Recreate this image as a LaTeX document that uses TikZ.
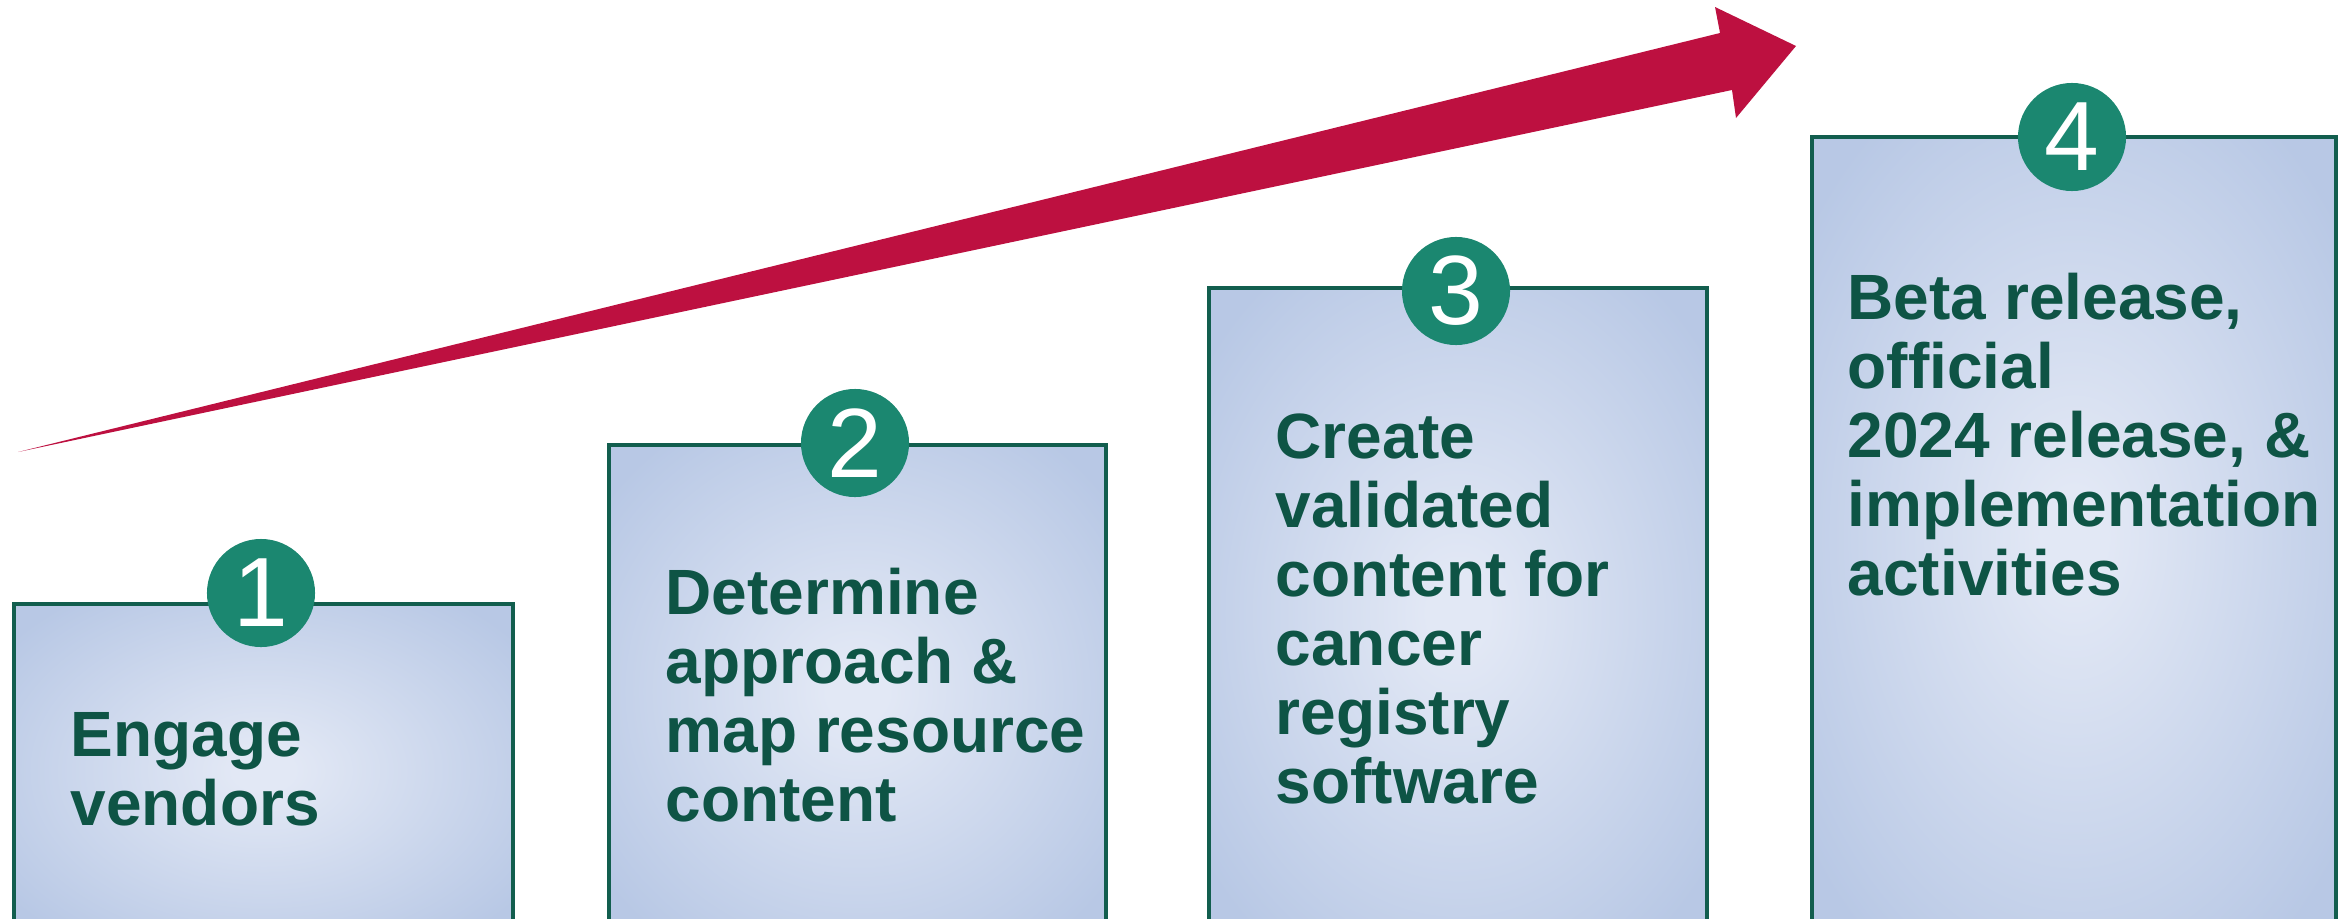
\documentclass[tikz,border=0pt]{standalone}
\usepackage{fontspec}
\setmainfont{Liberation Sans}
\usepackage{tikz}
\usetikzlibrary{shapes}

\definecolor{boxin}{RGB}{226,232,245}
\definecolor{boxout}{RGB}{184,200,229}
\definecolor{boxline}{RGB}{18,94,78}
\definecolor{steptextcol}{RGB}{14,84,69}
\definecolor{dotfill}{RGB}{27,135,112}
\definecolor{arrowred}{RGB}{189,16,64}

\pgfdeclareradialshading{boxglow}{\pgfpoint{0bp}{0bp}}{color(0bp)=(boxin); color(3bp)=(boxin); color(32bp)=(boxout); color(50bp)=(boxout)}

\begin{document}
\begin{tikzpicture}[x=0.01cm, y=-0.01cm]

\tikzstyle{stepbox} = [rectangle, draw=boxline, line width=1.1pt, shading=boxglow, anchor=north west, inner sep=0pt]
\tikzstyle{steptext} = [anchor=base west, inner sep=0pt, align=left, text=steptextcol, font=\bfseries\fontsize{18.2}{19.6}\selectfont]
\tikzstyle{numdot} = [circle, fill=dotfill, minimum size=1.08cm, inner sep=0pt, text=white, font=\fontsize{28}{28}\selectfont]

\clip (0,0) rectangle (2349,918);

% rising arrow
\fill[arrowred] (18,452) -- (1732,90) -- (1736,118) -- (1796,46) -- (1715,7) -- (1720,33) -- cycle;

% step boxes
\node[stepbox, minimum width=4.99cm, minimum height=3.33cm] (box1) at (12,602) {};
\node[stepbox, minimum width=4.97cm, minimum height=4.92cm] (box2) at (607,443) {};
\node[stepbox, minimum width=4.98cm, minimum height=6.49cm] (box3) at (1207,286) {};
\node[stepbox, minimum width=5.24cm, minimum height=8.00cm] (box4) at (1810,135) {};

% numbers
\node[numdot] (num1) at (261,593) {1};
\node[numdot] (num2) at (855,443) {2};
\node[numdot] (num3) at (1456,291) {3};
\node[numdot] (num4) at (2072,137) {4};

% texts (placed by the baseline of their last line)
\node[steptext] (txt1) at (70,825) {Engage\\vendors};
\node[steptext] (txt2) at (665,821) {Determine\\approach \&\\map resource\\content};
\node[steptext] (txt3) at (1275,803) {Create\\validated\\content for\\cancer\\registry\\software};
\node[steptext] (txt4) at (1847,595) {Beta release,\\official\\2024 release, \&\\implementation\\activities};
\end{tikzpicture}
\end{document}
